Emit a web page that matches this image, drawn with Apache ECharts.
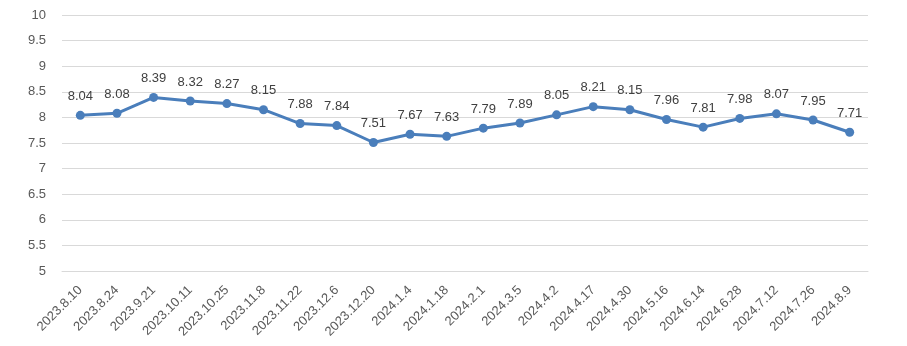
<!DOCTYPE html>
<html><head><meta charset="utf-8">
<script src="https://cdn.jsdelivr.net/npm/echarts@6/dist/echarts.min.js"></script>
<style>html,body{margin:0;padding:0;background:#fff}#c{width:907px;height:346px}</style>
</head><body><div id="c"></div>
<script>
var categories = ["2023.8.10","2023.8.24","2023.9.21","2023.10.11","2023.10.25","2023.11.8","2023.11.22","2023.12.6","2023.12.20","2024.1.4","2024.1.18","2024.2.1","2024.3.5","2024.4.2","2024.4.17","2024.4.30","2024.5.16","2024.6.14","2024.6.28","2024.7.12","2024.7.26","2024.8.9"];
var values = [8.04,8.08,8.39,8.32,8.27,8.15,7.88,7.84,7.51,7.67,7.63,7.79,7.89,8.05,8.21,8.15,7.96,7.81,7.98,8.07,7.95,7.71];
var chart = echarts.init(document.getElementById('c'));
var font = "Liberation Sans";
chart.setOption({
  animation:false,
  grid:{left:62,right:39,top:15,bottom:75,containLabel:false},
  xAxis:{type:'category',data:categories,boundaryGap:true,
    axisLine:{show:true,lineStyle:{color:'#d9d9d9'}},axisTick:{show:false},
    axisLabel:{rotate:45,interval:0,color:'#595959',fontSize:13,fontFamily:font,margin:17}},
  yAxis:{type:'value',min:5,max:10,interval:0.5,
    axisLine:{show:false},axisTick:{show:false},
    splitLine:{lineStyle:{color:'#d9d9d9'}},
    axisLabel:{color:'#595959',fontSize:13,fontFamily:font,margin:16}},
  series:[{type:'line',data:values,symbol:'circle',symbolSize:9,
    lineStyle:{color:'#4a7ebb',width:3},itemStyle:{color:'#4a7ebb'},
    label:{show:true,position:'top',distance:8,color:'#404040',fontSize:13,fontFamily:font}}]
});
</script></body></html>
